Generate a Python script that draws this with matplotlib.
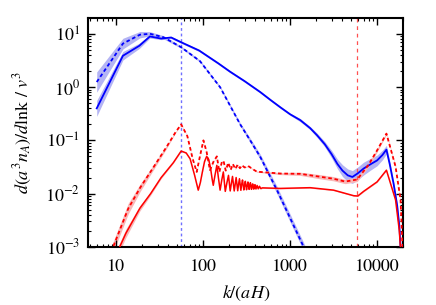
import numpy as np
import matplotlib
matplotlib.use("Agg")
import matplotlib.pyplot as plt
from matplotlib.ticker import LogLocator, NullFormatter, FixedLocator, FixedFormatter

plt.rcParams['font.family'] = ['STIXGeneral', 'DejaVu Serif']
plt.rcParams['mathtext.fontset'] = 'stix'

# blue, solid
k_bs = [6.0, 12, 18.5, 24.5, 33, 43, 56, 90, 150, 205, 300, 454, 600, 771, 1000, 1310, 1700,
        2040, 2500, 3000, 3500, 4000, 4600, 5200, 6000, 7000, 8500, 10000, 11500, 12800,
        14000, 15500, 17000, 18000, 18600, 19500]
y_bs = [0.40, 3.9, 6.0, 9.0, 8.2, 8.6, 7.0, 4.9, 2.8, 1.95, 1.3, 0.81, 0.57, 0.42, 0.31, 0.24,
        0.17, 0.125, 0.085, 0.055, 0.036, 0.027, 0.022, 0.0205, 0.024, 0.0295, 0.036, 0.042,
        0.053, 0.067, 0.035, 0.015, 0.006, 0.0025, 0.001, 0.0003]
e_bs = [0.15, 0.08, 0.05, 0.03, 0.02, 0.02, 0.02, 0.02, 0.02, 0.02, 0.02, 0.02, 0.02, 0.02,
        0.02, 0.03, 0.03, 0.04, 0.05, 0.07, 0.09, 0.11, 0.12, 0.12, 0.12, 0.12, 0.11, 0.1,
        0.09, 0.08, 0.06, 0.05, 0.04, 0.03, 0.02, 0.02]

# blue, dashed
k_bd = [6.0, 12, 18.8, 24.5, 35, 56, 92, 157, 267, 348, 454, 709, 1430, 1700]
y_bd = [1.25, 6.6, 9.7, 10.1, 8.7, 5.65, 3.1, 1.0, 0.2, 0.1, 0.049, 0.0115, 0.001, 0.0005]
e_bd = [0.19, 0.1, 0.06, 0.04, 0.03, 0.02, 0.02, 0.02, 0.03, 0.04, 0.05, 0.07, 0.08, 0.08]

# red, solid
k_rs = [10.0, 13, 18.8, 25, 33, 45.5, 56, 64, 71, 80, 88, 93, 98, 104, 110, 116, 122, 127, 131,
        137, 144, 150, 157, 164, 171, 180, 188, 196, 205, 212, 218, 228, 234, 240, 250, 256,
        262, 272, 278, 284, 294, 300, 306, 316, 322, 328, 338, 344, 350, 360, 366, 372, 382,
        388, 395, 405, 418, 430, 445, 460, 480, 771, 1700, 3160, 5400, 6000, 7000, 10000,
        12800, 16300, 18000, 19200]
y_rs = [0.0007, 0.0018, 0.0053, 0.010, 0.02, 0.038, 0.063, 0.058, 0.045, 0.022, 0.0116, 0.016,
        0.025, 0.04, 0.05, 0.044, 0.03, 0.019, 0.0143, 0.022, 0.034, 0.02, 0.0116, 0.018,
        0.0255, 0.011, 0.016, 0.022, 0.0112, 0.016, 0.021, 0.0112, 0.015, 0.02, 0.0113,
        0.015, 0.019, 0.0115, 0.015, 0.018, 0.0117, 0.014, 0.017, 0.0118, 0.014, 0.0165,
        0.012, 0.014, 0.016, 0.012, 0.014, 0.0152, 0.0121, 0.0134, 0.0147, 0.0122, 0.0142,
        0.0123, 0.0137, 0.0124, 0.0128, 0.0125, 0.0129, 0.0116, 0.0091, 0.009, 0.011,
        0.0166, 0.0275, 0.0076, 0.002, 0.0004]
e_rs = [0.08, 0.08, 0.05, 0.03, 0.02] + [0.01] * 67

# red, dashed
k_rd = [8.8, 13.8, 19, 25.6, 38, 48, 56, 66, 76, 84.5, 92, 101, 110, 120, 132, 144, 154, 165,
        172, 182, 195, 208, 220, 235, 250, 265, 280, 300, 330, 370, 415, 771, 1310, 2220, 3160,
        4300, 5900, 8000, 10000, 12800, 16300, 18600, 19300, 19800]
y_rd = [0.0008, 0.0052, 0.013, 0.0275, 0.075, 0.14, 0.2, 0.12, 0.045, 0.0255, 0.05, 0.1, 0.06,
        0.0275, 0.04, 0.05, 0.0255, 0.04, 0.041, 0.027, 0.038, 0.028, 0.036, 0.029, 0.035, 0.03,
        0.034, 0.031, 0.033, 0.029, 0.0258, 0.0238, 0.0235, 0.0207, 0.019, 0.0168, 0.0184,
        0.035, 0.065, 0.134, 0.032, 0.0076, 0.0018, 0.0006]
e_rd = [0.1, 0.1, 0.07, 0.05, 0.03] + [0.01] * 26 + [0.02, 0.03, 0.04, 0.04, 0.04, 0.04,
                                                    0.04, 0.03, 0.02, 0.02, 0.02, 0.02, 0.02]

k_blue_line = 56
k_red_line = 5900

xticks = [10, 100, 1000, 10000]
xticklabels = ['10', '100', '1000', '10000']

fig = plt.figure(figsize=(4.36, 3.05), dpi=100)
ax = fig.add_axes([0.2025, 0.191, 0.7225, 0.75])


def band(k, y, e, col):
    y = np.array(y)
    e = np.array(e)
    ax.fill_between(k, y * 10 ** (-e), y * 10 ** e, color=col, lw=0, zorder=1)


band(k_bs, y_bs, e_bs, '#b4b4f4')
band(k_bd, y_bd, e_bd, '#b4b4f4')
band(k_rs, y_rs, e_rs, '#f8b8b8')
band(k_rd, y_rd, e_rd, '#f8b8b8')

ax.plot(k_bs, y_bs, color='#0000ff', lw=1.3, zorder=3)
ax.plot(k_bd, y_bd, color='#0000ff', lw=1.3, ls=(0, (2, 1.5)), zorder=3)
ax.plot(k_rs, y_rs, color='#ff0000', lw=1.1, zorder=3)
ax.plot(k_rd, y_rd, color='#ff0000', lw=1.3, ls=(0, (2, 1.5)), zorder=3)

ax.axvline(k_blue_line, color='#7070ff', lw=1.0, ls=(0, (2, 2)), zorder=2)
ax.axvline(k_red_line, color='#ff5050', lw=0.9, ls=(0, (3, 3)), zorder=2)

ax.set_xscale('log')
ax.set_yscale('log')
ax.set_xlim(4.8, 20000)
ax.set_ylim(1e-3, 20)

ax.xaxis.set_major_locator(FixedLocator(xticks))
ax.xaxis.set_major_formatter(FixedFormatter(xticklabels))
ax.xaxis.set_minor_locator(LogLocator(base=10, subs=np.arange(2, 10)))
ax.xaxis.set_minor_formatter(NullFormatter())
ax.yaxis.set_major_locator(LogLocator(base=10, numticks=10))
ax.yaxis.set_minor_locator(LogLocator(base=10, subs=np.arange(2, 10), numticks=20))
ax.yaxis.set_minor_formatter(NullFormatter())

ax.tick_params(which='both', direction='in', top=True, right=True, labelsize=13)
ax.tick_params(which='major', length=5, width=1)
ax.tick_params(which='minor', length=2.5, width=0.8)
ax.tick_params(axis='x', which='major', pad=9)
ax.tick_params(axis='y', which='major', pad=6)
for s in ax.spines.values():
    s.set_linewidth(1.5)

ax.set_xlabel(r'$k/(aH)$', fontsize=13, labelpad=6)
ax.set_ylabel(r'$d(a^3n_A)/d\mathrm{lnk}\ /\ v^3$', fontsize=13, labelpad=8)

fig.savefig('out.png', dpi=100)
